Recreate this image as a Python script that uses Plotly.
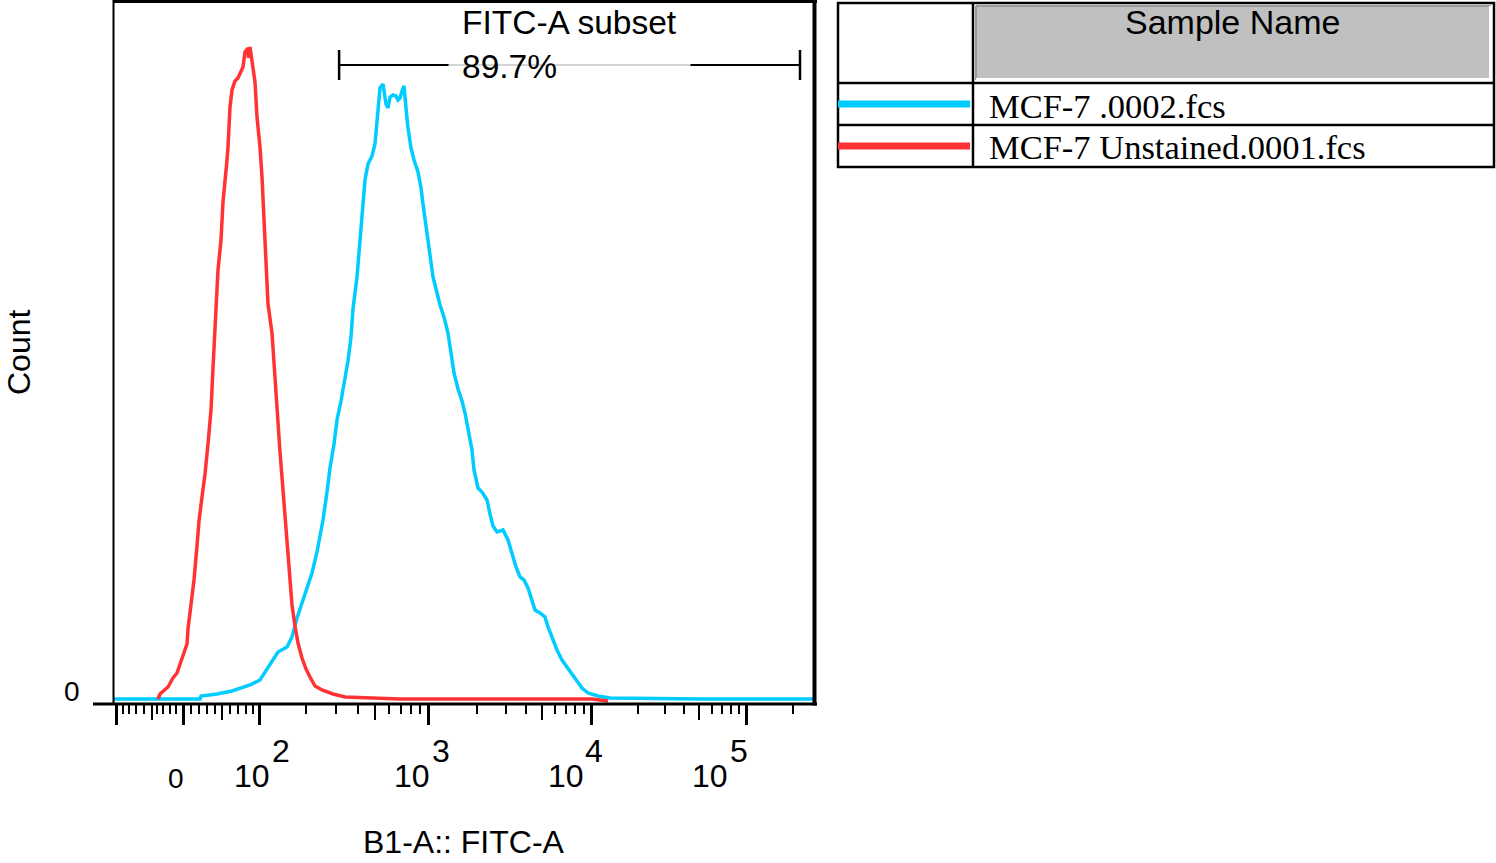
import numpy as np
import plotly.graph_objects as go

W, H = 1496, 863

# ---------------- data (display channel vs count) ----------------
SERIES_NAMES = ["MCF-7 .0002.fcs", "MCF-7 Unstained.0001.fcs"]
SERIES_COLORS = ["rgb(0,204,255)", "rgb(255,51,51)"]

BLUE_CHANNEL = [0, 86, 87, 103, 118, 128, 136, 146, 151, 158, 164, 173, 178, 183, 188, 193, 198, 203,
                206, 209, 213, 216, 220, 223, 227, 231, 234, 237, 239, 243, 246, 248, 251, 254, 258,
                261, 263, 266, 269, 272, 274, 276, 279, 282, 284, 286, 288, 290, 292, 294, 297, 300,
                304, 307, 309, 313, 316, 319, 323, 326, 330, 334, 337, 340, 344, 348, 351, 354, 358,
                360, 364, 368, 373, 376, 379, 383, 389, 394, 398, 402, 406, 410, 414, 418, 421, 426,
                431, 434, 438, 443, 448, 453, 458, 463, 468, 474, 484, 496, 586, 699]
BLUE_COUNT = [1, 1, 2.5, 3.5, 5, 6.5, 8, 10.5, 14.5, 20, 24.5, 27, 32, 41.5, 49, 56, 64, 74.5,
              82, 90.5, 104.5, 116.5, 128.5, 140.5, 150, 162, 170, 182, 196, 212, 230, 246, 260.5, 268.5, 272.5,
              278.5, 290.5, 306.5, 308.5, 298.5, 296.5, 302, 303, 302.5, 300.5, 301.5, 305, 307.5, 296.5, 286.5, 276.5, 270.5,
              264.5, 256.5, 248.5, 234.5, 224, 212, 204, 198, 192, 184, 174, 164, 156, 150, 144, 136, 125.5,
              115.5, 106.5, 104.5, 100.5, 93.5, 87.5, 84.5, 85.5, 80.5, 74, 67, 62, 60.5, 56.5, 50.5, 45.5, 44,
              42, 37, 31.5, 25.5, 20.5, 17, 13, 9.5, 6.5, 4, 2.5, 1.5, 1, 1]

RED_CHANNEL = [44, 46, 54, 59, 63, 66, 69, 73, 74, 77, 80, 83, 85, 88, 91, 94, 97, 99, 102, 104,
               107, 109, 113, 114, 116, 118, 121, 124, 129, 131, 134, 134.5, 136, 138, 141, 143, 146, 148, 149.5, 152,
               154, 158, 161, 163, 166, 169, 172, 175, 178, 181, 184, 188, 192, 196, 201, 208, 219, 231, 286, 478,
               494]
RED_COUNT = [1, 3.5, 7, 11.5, 14, 18, 23, 28.5, 36, 47.5, 60.5, 77.5, 90, 102, 113.5, 128.5, 145.5, 166.5, 192, 215.5,
             230.5, 249.5, 270.5, 277, 297, 305.5, 310, 311.5, 317, 324.5, 326.5, 321.5, 327, 319.5, 309.5, 292, 277, 262, 245.5, 218,
             198.5, 184, 160.5, 143.5, 124.5, 105.5, 86, 65, 48, 37.5, 29, 21.5, 16, 12, 7.5, 5.5, 3.5, 2, 1, 1,
             0]

# biexponential display scale: FITC-A value -> display channel
SCALE_ANCHOR_VALUES = [-100, -50, 0, 50, 100, 1e3, 1e4, 1e5, 1e6]
SCALE_ANCHOR_CHANNELS = [2.7, 37.7, 69, 107.7, 145.3, 314.5, 477, 632, 787]
SCALE_COFACTOR = 75
CHANNEL_RANGE = [0, 701]
COUNT_RANGE = [-1, 349.5]

MAJOR_TICKS = [-100, 0, 100, 1e3, 1e4, 1e5]
MEDIUM_TICKS = [-50, 50, 500, 5000, 50000]
MINOR_TICKS = [-90, -80, -70, -60, -40, -30, -20, -10, 10, 20, 30, 40, 60, 70, 80, 90,
               200, 300, 400, 600, 700, 800, 900,
               2000, 3000, 4000, 6000, 7000, 8000, 9000,
               20000, 30000, 40000, 60000, 70000, 80000, 90000, 200000]
TICK_LABEL_VALUES = [0, 1e2, 1e3, 1e4, 1e5]
TICK_LABEL_BASES = ["0", "10", "10", "10", "10"]
TICK_LABEL_EXPONENTS = ["", "2", "3", "4", "5"]

GATE_NAME = "FITC-A subset"
GATE_PERCENT = "89.7%"
GATE_RANGE = [311, 223000]

X_TITLE = "B1-A:: FITC-A"
Y_TITLE = "Count"
Y_TICK_LABEL = "0"
LEGEND_HEADER = "Sample Name"

# ---------------- helpers ----------------
def to_channel(v):
    u = np.arcsinh(np.asarray(v, dtype=float) / SCALE_COFACTOR)
    ua = np.arcsinh(np.asarray(SCALE_ANCHOR_VALUES, dtype=float) / SCALE_COFACTOR)
    return np.interp(u, ua, SCALE_ANCHOR_CHANNELS)

def fx(px):
    return px / W

def fy(py):
    return 1 - py / H

SANS = "Liberation Sans, Arial, sans-serif"
SERIF = "Liberation Serif, Times New Roman, serif"

fig = go.Figure()
for ch, cnt, name, col in [(BLUE_CHANNEL, BLUE_COUNT, SERIES_NAMES[0], SERIES_COLORS[0]),
                           (RED_CHANNEL, RED_COUNT, SERIES_NAMES[1], SERIES_COLORS[1])]:
    fig.add_trace(go.Scatter(x=ch, y=cnt, mode="lines", name=name,
                             line=dict(color=col, width=3.5), showlegend=False,
                             hoverinfo="x+y+name", cliponaxis=False))
# carrier trace for the medium-tick axis
fig.add_trace(go.Scatter(x=[], y=[], xaxis="x2", yaxis="y", showlegend=False, hoverinfo="skip"))

shapes = []
def line(x0, y0, x1, y1, color="black", width=2, xref="paper", yref="paper"):
    shapes.append(dict(type="line", x0=x0, y0=y0, x1=x1, y1=y1, xref=xref, yref=yref,
                       line=dict(color=color, width=width), layer="above"))

# frame
line(fx(113), fy(1.5), fx(817), fy(1.5), width=3)
line(fx(113.5), fy(0), fx(113.5), fy(704), width=2)
line(fx(814.5), fy(0), fx(814.5), fy(705.5), width=4)
line(fx(93), fy(704), fx(817), fy(704), width=3)

# gate
g0, g1 = to_channel(GATE_RANGE)
gmid = (g0 + g1) / 2
line(g0, fy(65), g1, fy(65), width=2, xref="x")
line(gmid - 121, fy(65), gmid + 121, fy(65), color="#d4d4d4", width=2, xref="x")
line(g0, fy(50), g0, fy(80), width=2.5, xref="x")
line(g1, fy(50), g1, fy(80), width=2.5, xref="x")

# legend table
shapes.append(dict(type="rect", x0=fx(976), y0=fy(6), x1=fx(1491), y1=fy(80), xref="paper", yref="paper",
                   fillcolor="#c0c0c0", line=dict(width=0), layer="below"))
line(fx(976), fy(6), fx(1491), fy(6), color="#9a9a9a", width=2)
line(fx(976), fy(6), fx(976), fy(80), color="#9a9a9a", width=2)
line(fx(976), fy(79), fx(1491), fy(79), color="white", width=2)
line(fx(1490), fy(6), fx(1490), fy(80), color="white", width=2)
shapes.append(dict(type="rect", x0=fx(838), y0=fy(3), x1=fx(1494), y1=fy(167), xref="paper", yref="paper",
                   line=dict(color="black", width=2.5), layer="above"))
line(fx(973), fy(3), fx(973), fy(167), width=2.5)
line(fx(838), fy(83), fx(1494), fy(83), width=2.5)
line(fx(838), fy(125), fx(1494), fy(125), width=2.5)
for yy, col in [(104, SERIES_COLORS[0]), (146, SERIES_COLORS[1])]:
    line(fx(838), fy(yy), fx(970), fy(yy), color=col, width=7)

annotations = []
def ann(text, x, y, size, xref="paper", yref="paper", family=SANS, xanchor="center",
        yanchor="middle", xshift=0, yshift=0, align="center", textangle=0):
    annotations.append(dict(text=text, x=x, y=y, xref=xref, yref=yref, showarrow=False,
                            font=dict(family=family, size=size, color="black"),
                            xanchor=xanchor, yanchor=yanchor, xshift=xshift, yshift=yshift,
                            align=align, textangle=textangle))

# tick labels
BASE_SHIFT = [-7, -7, -17, -25, -36]
EXP_SHIFT = [0, 21.5, 12, 3, -7]
for v, b, e, bs, es in zip(TICK_LABEL_VALUES, TICK_LABEL_BASES, TICK_LABEL_EXPONENTS, BASE_SHIFT, EXP_SHIFT):
    xc = float(to_channel(v))
    if e:
        ann(b, xc, fy(776), 32, xref="x", xshift=bs)
        ann(e, xc, fy(751), 32, xref="x", xshift=es)
    else:
        ann(b, xc, fy(778), 28, xref="x", xshift=bs)

ann(Y_TICK_LABEL, fx(72), 0, 28, yref="y", yshift=10)
ann(Y_TITLE, fx(19), fy(352), 32, textangle=-90)
ann(X_TITLE, fx(464), fy(862), 32, yanchor="bottom")
ann(GATE_NAME + "<br>" + GATE_PERCENT, gmid, fy(44.5), 33.5, xref="x", align="left")
ann(LEGEND_HEADER, fx(1232), fy(22), 34)
ann(SERIES_NAMES[0], fx(987), fy(106), 34.5, family=SERIF, xanchor="left")
ann(SERIES_NAMES[1], fx(987), fy(147), 34.5, family=SERIF, xanchor="left")

fig.update_layout(
    width=W, height=H, margin=dict(l=0, r=0, t=0, b=0),
    paper_bgcolor="white", plot_bgcolor="white",
    showlegend=False,
    xaxis=dict(domain=[fx(114), fx(815)], range=CHANNEL_RANGE, showgrid=False, zeroline=False,
               showline=False, tickmode="array", tickvals=to_channel(MAJOR_TICKS).tolist(),
               ticks="outside", ticklen=21, tickwidth=3, tickcolor="black", showticklabels=False,
               minor=dict(tickmode="array", tickvals=to_channel(MINOR_TICKS).tolist(), ticks="outside",
                          ticklen=10, tickwidth=2, tickcolor="black", showgrid=False)),
    xaxis2=dict(domain=[fx(114), fx(815)], range=CHANNEL_RANGE, overlaying="x", anchor="y", side="bottom",
                showgrid=False, zeroline=False, showline=False, tickmode="array",
                tickvals=to_channel(MEDIUM_TICKS).tolist(), ticks="outside", ticklen=16, tickwidth=2,
                tickcolor="black", showticklabels=False),
    yaxis=dict(domain=[fy(703), fy(2)], range=COUNT_RANGE, showgrid=False, zeroline=False,
               showline=False, showticklabels=False, ticks=""),
    shapes=shapes, annotations=annotations,
)

fig.write_html("out.html")
